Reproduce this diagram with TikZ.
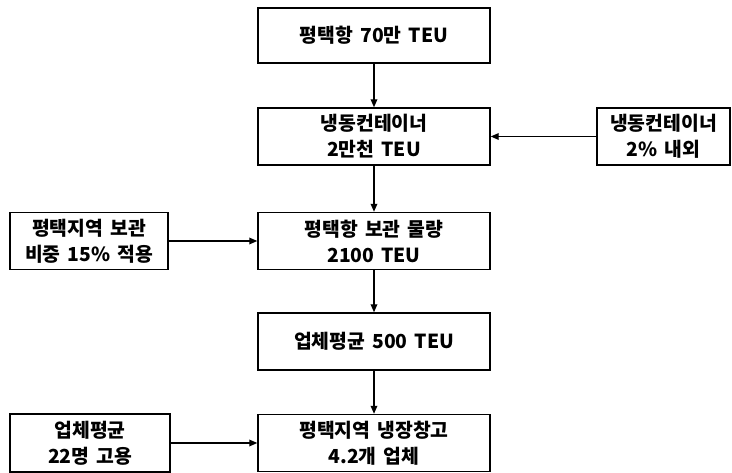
\documentclass[tikz,border=0pt]{standalone}
\usepackage{fontspec}
\setmainfont{Noto Sans CJK KR}[WordSpace=1.6]
\usetikzlibrary{arrows.meta}
\begin{document}
\begin{tikzpicture}[x=0.75pt,y=-0.75pt,
  box/.style={draw,line width=1.1pt,rectangle,align=center,inner sep=0pt,font=\fontsize{14.5}{19.5}\selectfont\bfseries},
  arr/.style={line width=0.9pt,-{Triangle[length=6pt,width=5pt]}}]
\useasboundingbox (0,0) rectangle (732,473);
\node[box,minimum width=232*0.75pt,minimum height=55*0.75pt] (b1) at (374,35.5) {평택항 70만 TEU};
\node[box,minimum width=232*0.75pt,minimum height=57*0.75pt] (b2) at (374,136.5) {냉동컨테이너\\2만천 TEU};
\node[box,minimum width=232*0.75pt,minimum height=57*0.75pt] (b3) at (374,241) {평택항 보관 물량\\2100 TEU};
\node[box,minimum width=232*0.75pt,minimum height=57*0.75pt] (b4) at (374,341.5) {업체평균 500 TEU};
\node[box,minimum width=232*0.75pt,minimum height=57*0.75pt] (b5) at (374,443) {평택지역 냉장창고\\4.2개 업체};
\node[box,minimum width=158*0.75pt,minimum height=57*0.75pt] (l1) at (89,241) {평택지역 보관\\비중 15\% 적용};
\node[box,minimum width=160*0.75pt,minimum height=58*0.75pt] (l2) at (90,443) {업체평균\\22명 고용};
\node[box,minimum width=133*0.75pt,minimum height=57*0.75pt] (r1) at (663.5,136.5) {냉동컨테이너\\2\% 내외};
\draw[arr] (b1) -- (b2);
\draw[arr] (b2) -- (b3);
\draw[arr] (b3) -- (b4);
\draw[arr] (b4) -- (b5);
\draw[arr] (l1) -- (b3);
\draw[arr] (l2) -- (b5);
\draw[arr] (r1) -- (b2);
\end{tikzpicture}
\end{document}
